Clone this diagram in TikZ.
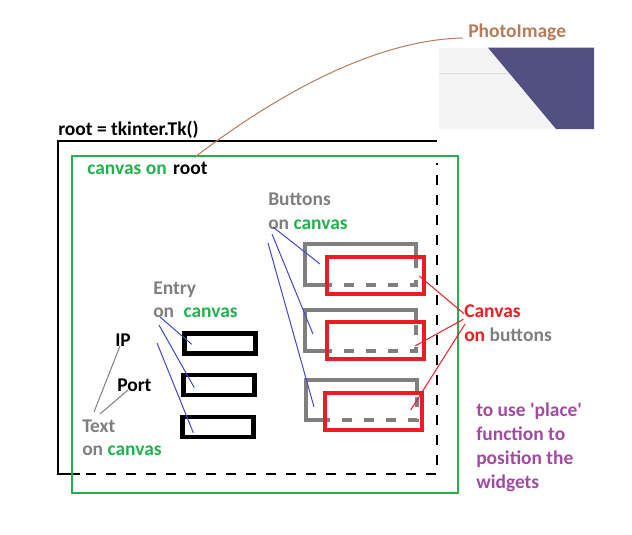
\documentclass[tikz,border=0pt]{standalone}
\usepackage{fontspec}
\setmainfont{Carlito}
\usetikzlibrary{positioning}
\definecolor{pgreen}{HTML}{22B14C}
\definecolor{pred}{HTML}{ED1C24}
\definecolor{pgray}{HTML}{7F7F7F}
\definecolor{pblue}{HTML}{3F48CC}
\definecolor{ppurple}{HTML}{A349A4}
\definecolor{pbrown}{HTML}{B97A57}
\definecolor{photobg}{HTML}{F4F4F4}
\definecolor{photoline}{HTML}{DCDCDC}
\definecolor{photodark}{HTML}{524F82}
\tikzset{
  lbl/.style={font=\fontsize{14.6}{18}\selectfont\bfseries, inner sep=0pt, anchor=base west},
  entrybox/.style={draw=black, line width=3.5pt, minimum width=53.25pt, minimum height=15pt, inner sep=0pt, outer sep=0pt},
  canvbox/.style={draw=pred, line width=3pt, minimum width=72.75pt, minimum height=27.75pt, inner sep=0pt, outer sep=0pt},
  btnbox/.style={minimum width=83.25pt, minimum height=30.4pt, inner sep=0pt, outer sep=0pt},
  btnline/.style={pgray, line width=3pt},
  btnhidden/.style={pgray, line width=3pt, dash pattern=on 7.5pt off 9pt, dash phase=3.75pt},
  lead/.style={line width=0.75pt},
}

\begin{document}
\begin{tikzpicture}[x=0.75pt,y=-0.75pt,line join=miter]
    \useasboundingbox (0,0) rectangle (632,535);
    % the photo
    \fill[photobg] (439,47.7) rectangle (594,129);
    \draw[photoline,line width=0.75pt] (439,74) -- (510,74);
    \fill[photodark] (488,47.7) -- (594,47.7) -- (594,129) -- (556,129) -- cycle;
    % root and canvas frames
    \draw[line width=0.9pt] (80,474) -- (58,474) -- (58,141) -- (437,141);
    \draw[line width=0.9pt,dash pattern=on 7.5pt off 7.5pt,dash phase=10.5pt] (80,474) -- (437,474) -- (437,163);
    \draw[pgreen,line width=0.8pt] (72,156) rectangle (458,493);

    \node[lbl] (title) at (58,136) {root = tkinter.Tk()};
    \node[lbl,pgreen] (canon) at (87,174) {canvas on};
    \node[lbl,base right=4.5pt of canon] (canroot) {root};
    \node[lbl,pbrown] (ph) at (468,38) {PhotoImage};
    \draw[pbrown,lead] ([shift={(4,-4)}]canroot.north) .. controls (250,115) and (360,40) .. ([shift={(-5,0)}]ph.base west);

    % buttons with canvases on them
    \node[btnbox] (b1) at (360,264.5) {};
    \node[btnbox] (b2) at (360,330.5) {};
    \node[btnbox] (b3) at (361.8,399.8) {};
    \node[canvbox] (c1) at (375.3,275) {};
    \node[canvbox] (c2) at (375,340.5) {};
    \node[canvbox] (c3) at (373.8,411.3) {};
    \draw[btnline] (c1.west |- b1.south) -- (b1.south west) -- (b1.north west) -- (b1.north east) -- (b1.east |- c1.north);
    \draw[btnhidden] (c1.west |- b1.south) -- (b1.south east) -- (b1.east |- c1.north);
    \draw[btnline] (c2.west |- b2.south) -- (b2.south west) -- (b2.north west) -- (b2.north east) -- (b2.east |- c2.north);
    \draw[btnhidden] (c2.west |- b2.south) -- (b2.south east) -- (b2.east |- c2.north);
    \draw[btnline] (c3.west |- b3.south) -- (b3.south west) -- (b3.north west) -- (b3.north east) -- (b3.east |- c3.north);
    \draw[btnhidden] (c3.west |- b3.south) -- (b3.south east) -- (b3.east |- c3.north);
    \node[canvbox] at (c1) {};
    \node[canvbox] at (c2) {};
    \node[canvbox] at (c3) {};

    % entries
    \node[entrybox] (e1) at (219.8,343.3) {};
    \node[entrybox] (e2) at (218.8,385) {};
    \node[entrybox] (e3) at (217.8,427) {};

    \node[lbl,pgray] (bt) at (268,205) {Buttons};
    \node[lbl,pgray] (bon) at (268,229) {on \textcolor{pgreen}{canvas}};
    \node[lbl,pgray] (en) at (153,294) {Entry};
    \node[lbl,pgray] (eon) at (153,317) {on\hspace{7pt}\textcolor{pgreen}{canvas}};
    \node[lbl] (ip) at (115,346) {IP};
    \node[lbl] (port) at (117,391) {Port};
    \node[lbl,pgray] (tx) at (82,432) {Text};
    \node[lbl,pgray] (ton) at (82,455) {on \textcolor{pgreen}{canvas}};
    \node[lbl,pred] (cv) at (464,317.5) {Canvas};
    \node[lbl,pred] (con) at (464,341.5) {on \textcolor{pgray}{buttons}};
    \node[lbl,ppurple,align=left] (note) at (476,488) {to use \textquotesingle place\textquotesingle\\function to\\position the\\widgets};

    \draw[pblue,lead] ([shift={(5,-2)}]bon.base west) -- ([shift={(15.5,-0.5)}]b1.west);
    \draw[pblue,lead] ([shift={(4,5)}]bon.base west) -- ([shift={(8.5,3.5)}]b2.west);
    \draw[pblue,lead] ([shift={(0,14)}]bon.base west) -- ([shift={(7.7,7.2)}]b3.west);
    \draw[pblue,lead] ([shift={(7,0)}]eon.base west) -- ([shift={(7.4,1)}]e1.west);
    \draw[pblue,lead] ([shift={(6,8)}]eon.base west) -- ([shift={(11,2.7)}]e2.west);
    \draw[pblue,lead] ([shift={(4,26)}]eon.base west) -- ([shift={(11,5.7)}]e3.west);
    \draw[pgray,lead] ([shift={(12,-20)}]tx.base west) -- ([shift={(5,0)}]ip.base west);
    \draw[pgray,lead] ([shift={(18,-18)}]tx.base west) -- ([shift={(11,-1)}]port.base west);
    \draw[pred,lead] ([shift={(0,-3.8)}]cv.base west) -- ([shift={(-4.5,1)}]c1.east);
    \draw[pred,lead] ([shift={(-0.7,1.8)}]cv.base west) -- ([shift={(-8.5,5.5)}]c2.east);
    \draw[pred,lead] ([shift={(1,6.5)}]cv.base west) -- ([shift={(-11.6,-1.3)}]c3.east);
\end{tikzpicture}
\end{document}
